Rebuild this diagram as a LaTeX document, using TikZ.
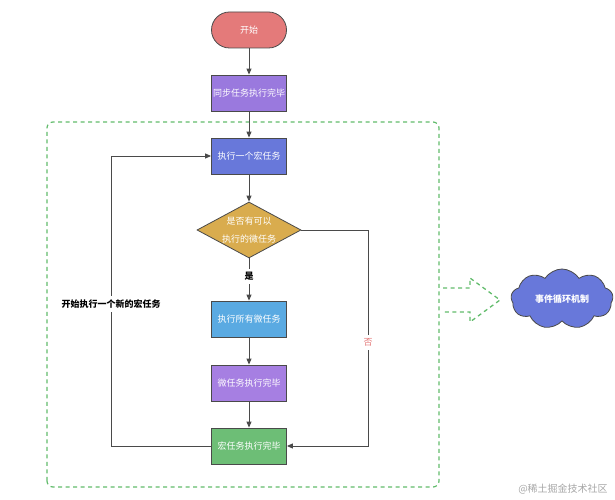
\documentclass[tikz,border=0pt]{standalone}
\usepackage{fontspec}
\setmainfont{Noto Sans CJK SC}
\usetikzlibrary{shapes.geometric,shapes.symbols,arrows.meta}

\definecolor{startred}{HTML}{E47A7A}
\definecolor{syncpurple}{HTML}{9A79DE}
\definecolor{macroblue}{HTML}{6878DA}
\definecolor{checkgold}{HTML}{D9AC4E}
\definecolor{microblue}{HTML}{5AAAE2}
\definecolor{donepurple}{HTML}{A67FE2}
\definecolor{donegreen}{HTML}{6DBE76}
\definecolor{framegreen}{HTML}{62BC6C}
\definecolor{edgegray}{HTML}{4A4A4A}

\begin{document}
\begin{tikzpicture}[
		x=1pt, y=1pt,
		font=\fontsize{9}{12}\selectfont,
		box/.style={draw=edgegray, line width=0.8pt, minimum width=75pt, minimum height=36pt, inner sep=1pt, text=white},
		flow/.style={draw=edgegray, line width=0.9pt, -{Triangle[length=6pt,width=5pt]}},
		frame/.style={draw=framegreen, line width=1.2pt, dash pattern=on 4pt off 3.5pt}
		]
		\useasboundingbox (0,0) rectangle (615,500);
		% main column
		\node[box, fill=startred, rounded corners=18pt] (start) at (249,470) {开始};
		\node[box, fill=syncpurple] (sync) at (249,407) {同步任务执行完毕};
		\node[box, fill=macroblue] (macro) at (249,344) {执行一个宏任务};
		\node[draw=edgegray, line width=0.8pt, diamond, aspect=1.86, fill=checkgold, text=white,
			minimum width=104pt, minimum height=56pt, inner sep=0pt, align=center,
			font=\fontsize{9}{18}\selectfont] (check) at (249,270) {是否有可以\\执行的微任务};
		\node[box, fill=microblue] (micro) at (249,181) {执行所有微任务};
		\node[box, fill=donepurple] (microdone) at (249,117) {微任务执行完毕};
		\node[box, fill=donegreen] (macrodone) at (249,54) {宏任务执行完毕};
		% loop corners
		\coordinate (loopbot) at (111,54);
		\coordinate (looptop) at (111,344);
		\coordinate (notop) at (368,270);
		\coordinate (nobot) at (368,54);
		% dashed frame
		\draw[frame, rounded corners=6pt] (47,13) rectangle (439,378);
		\draw[flow] (start) -- (sync);
		\draw[flow] (sync) -- (macro);
		\draw[flow] (macro) -- (check);
		\draw[flow] (check) -- node[fill=white, font=\fontsize{9}{12}\selectfont\bfseries, pos=0.42] (yes) {是} (micro);
		\draw[flow] (micro) -- (microdone);
		\draw[flow] (microdone) -- (macrodone);
		\draw[flow] (check.east) -- (notop) -- node[fill=white, text=startred, pos=0.52] (no) {否} (nobot) -- (macrodone.east);
		\draw[flow] (macrodone.west) -- (loopbot) -- node[fill=white, font=\fontsize{9}{12}\selectfont\bfseries, pos=0.49] (again) {开始执行一个新的宏任务} (looptop) -- (macro.west);
		% hollow arrow and cloud
		\coordinate (tip) at (500,200);
		\draw[frame, line width=1.3pt] (443,212) -- (470,212) -- (470,222) -- (tip) -- (470,178) -- (470,188) -- (443,188);
		\node[draw=edgegray, line width=0.8pt, cloud, cloud puffs=9, cloud puff arc=115, aspect=1.8, fill=macroblue, text=white,
			minimum width=102pt, minimum height=60pt, inner sep=0pt, font=\fontsize{9}{12}\selectfont\bfseries] (loop) at (562,201) {事件循环机制};
		\node[text=gray!70, font=\fontsize{10}{12}\selectfont] (mark) at (563,11) {@稀土掘金技术社区};
\end{tikzpicture}
\end{document}
